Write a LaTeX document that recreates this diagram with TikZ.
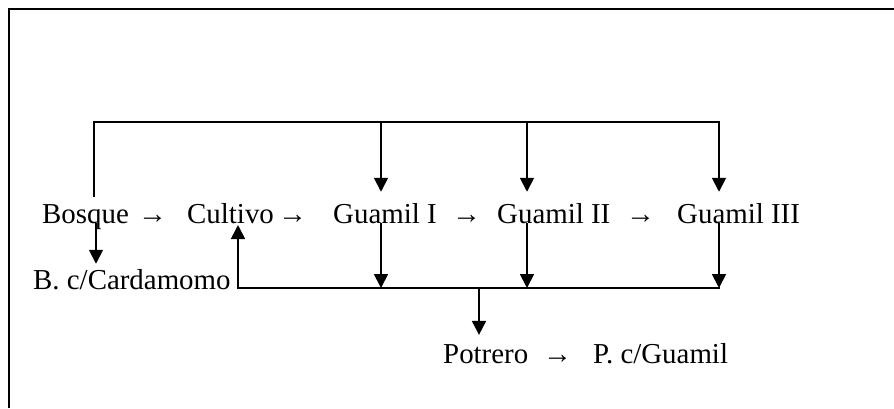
\documentclass[tikz,border=0pt]{standalone}
\usepackage{fontspec}
\setmainfont{Liberation Serif}
\usetikzlibrary{arrows.meta}
\begin{document}
\begin{tikzpicture}[x=1bp,y=-1bp,
  lbl/.style={font=\fontsize{29}{34}\selectfont, inner sep=0pt, anchor=base west},
  ln/.style={line width=1.8bp, line cap=rect},
  arr/.style={line width=1.8bp, -{Triangle[length=14bp,width=14bp]}}]
\useasboundingbox (0,0) rectangle (894,408);
% frame
\draw[line width=2.2bp] (9,408) -- (9,9) -- (894,9);
% main row
\node[lbl] (bos) at (42,223) {Bosque};
\node[lbl] (a1) at (138,223) {→};
\node[lbl] (cul) at (187,223) {Cultivo};
\node[lbl] (a2) at (278,223) {→};
\node[lbl] (g1) at (333,223) {Guamil I};
\node[lbl] (a3) at (452,223) {→};
\node[lbl] (g2) at (497,223) {Guamil II};
\node[lbl] (a4) at (626,223) {→};
\node[lbl] (g3) at (677,223) {Guamil III};
\node[lbl] (bcc) at (33,289) {B. c/Cardamomo};
\node[lbl] (pot) at (443,363) {Potrero};
\node[lbl] (a5) at (543,363) {→};
\node[lbl] (pcg) at (593,363) {P. c/Guamil};
% bus coordinates
\coordinate (tb0) at (94,122);
\coordinate (tb1) at (381,122);
\coordinate (tb2) at (527,122);
\coordinate (tb3) at (719,122);
\coordinate (bb0) at (238,288);
\coordinate (bb1) at (381,288);
\coordinate (bb2) at (527,288);
\coordinate (bb3) at (719,288);
\coordinate (bbp) at (479,288);
\coordinate (bd) at (96,223);
% top bus
\draw[ln] ([yshift=8bp]tb0 |- bos.north) -- (tb0) -- (tb3);
\draw[arr] (tb1) -- ([yshift=11bp]tb1 |- g1.north);
\draw[arr] (tb2) -- ([yshift=11bp]tb2 |- g2.north);
\draw[arr] (tb3) -- ([yshift=11bp]tb3 |- g3.north);
% Bosque to B. c/Cardamomo
\draw[arr] (bd |- bos.base) -- ([yshift=5bp]bd |- bcc.north);
% bottom bus
\draw[ln] (bb0) -- (bb3);
\draw[arr] (bb0) -- ([yshift=-2bp]bb0 |- cul.base);
\draw[arr] (bb1 |- g1.base) -- (bb1);
\draw[arr] (bb2 |- g2.base) -- (bb2);
\draw[arr] (bb3 |- g3.base) -- (bb3);
\draw[arr] (bbp) -- ([yshift=9bp]bbp |- pot.north);
\end{tikzpicture}
\end{document}
